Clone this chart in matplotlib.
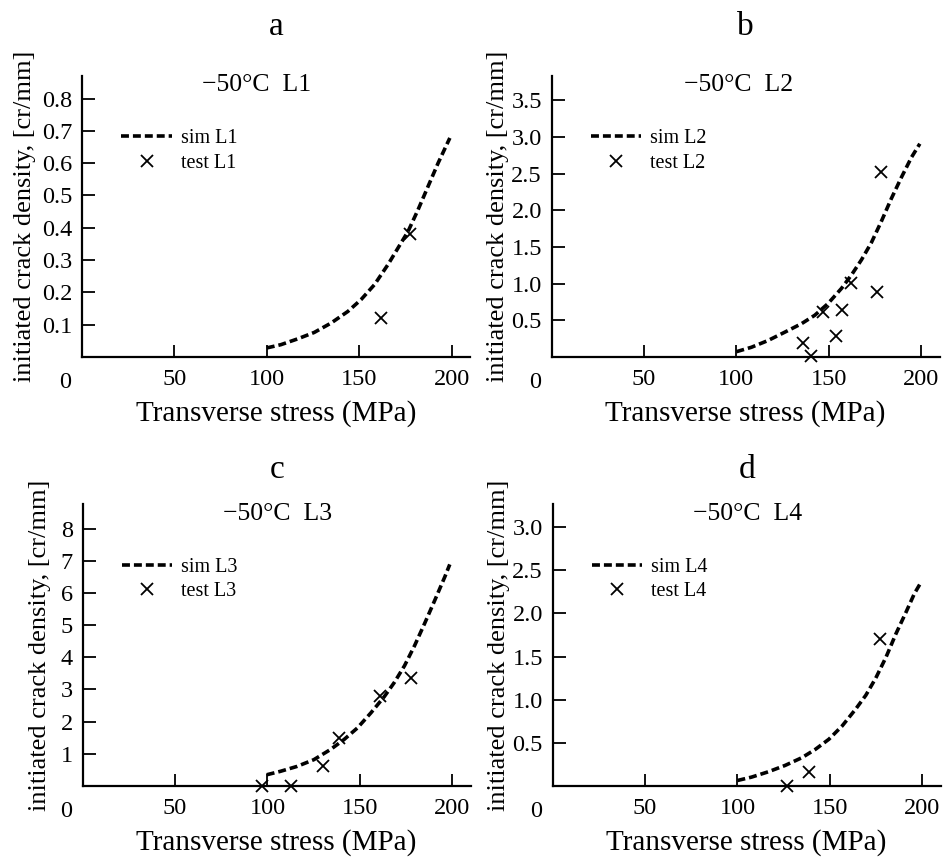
import matplotlib
matplotlib.use("Agg")
import matplotlib.pyplot as plt

plt.rcParams['font.family'] = ['Liberation Serif', 'DejaVu Serif']

# panel letters / layups
panels = ['a', 'b', 'c', 'd']
layups = ['L1', 'L2', 'L3', 'L4']

# simulated curves
sim_x = [
    [100, 107.6, 116.7, 125.7, 134.8, 143.9, 151.1, 158.3, 165.6, 171.0, 176.5,
     181.9, 187.3, 192.8, 199.1],
    [100, 108.1, 117.1, 126.2, 135.2, 142.4, 149.6, 156.9, 162.3, 167.7, 173.1,
     178.5, 183.9, 189.3, 194.8, 199.3],
    [99.6, 106.9, 116, 125.1, 134.2, 141.5, 148.7, 156, 163.3, 168.7, 174.2,
     179.6, 185.1, 190.5, 196, 198.7],
    [100, 107.6, 116.7, 125.8, 134.9, 142.2, 149.5, 156.7, 164, 169.5, 174.9,
     180.4, 185.8, 191.3, 195.8, 199.5],
]
sim_y = [
    [0.028, 0.038, 0.056, 0.076, 0.105, 0.141, 0.178, 0.224, 0.286, 0.337, 0.389,
     0.456, 0.528, 0.601, 0.678],
    [0.072, 0.132, 0.224, 0.338, 0.453, 0.568, 0.728, 0.935, 1.118, 1.324, 1.560,
     1.850, 2.160, 2.447, 2.722, 2.906],
    [0.34, 0.445, 0.60, 0.81, 1.13, 1.44, 1.80, 2.27, 2.78, 3.22, 3.74,
     4.36, 5.06, 5.77, 6.51, 6.90],
    [0.060, 0.099, 0.161, 0.235, 0.325, 0.422, 0.539, 0.694, 0.889, 1.050, 1.250,
     1.491, 1.764, 2.017, 2.231, 2.367],
]

# test points
test_x = [
    [162, 177.7],
    [178.2, 162.3, 176.2, 146.9, 157.4, 153.8, 136.1, 140.6],
    [96.9, 112.9, 130, 138.7, 161.1, 177.8],
    [126.7, 138.5, 177.3],
]
test_y = [
    [0.121, 0.382],
    [2.516, 1.003, 0.889, 0.613, 0.645, 0.283, 0.187, 0.008],
    [0.0, 0.0, 0.60, 1.49, 2.80, 3.37],
    [0.0, 0.16, 1.70],
]

# y ticks and limits
y_ticks = [
    [0.1, 0.2, 0.3, 0.4, 0.5, 0.6, 0.7, 0.8],
    [0.5, 1.0, 1.5, 2.0, 2.5, 3.0, 3.5],
    [1, 2, 3, 4, 5, 6, 7, 8],
    [0.5, 1.0, 1.5, 2.0, 2.5, 3.0],
]
y_fmt = ['{:.1f}', '{:.1f}', '{:d}', '{:.1f}']
y_top = [0.87, 3.83, 8.78, 3.27]
x_ticks = [50, 100, 150, 200]

fig = plt.figure(figsize=(9.43, 8.61), dpi=100)

# axes boxes in figure fractions
boxes = [
    [0.0870, 0.5854, 0.4114, 0.3264],
    [0.5850, 0.5854, 0.4114, 0.3264],
    [0.0877, 0.0875, 0.4114, 0.3270],
    [0.5861, 0.0875, 0.4114, 0.3270],
]
title_pad = [29.5, 29.5, 18.5, 18.5]
sub_x = [0.45, 0.483, 0.502, 0.502]
ylab_x = [-0.118, -0.110, -0.081, -0.110]

for i in range(4):
    ax = fig.add_axes(boxes[i])
    ax.plot(sim_x[i], sim_y[i], color='black', lw=2.6, ls=(0, (2.2, 1.1)),
            label='sim ' + layups[i])
    ax.plot(test_x[i], test_y[i], ls='none', marker='x', color='black',
            ms=9, mew=1.3, clip_on=False, label='test ' + layups[i])

    ax.set_xlim(0, 210)
    ax.set_ylim(0, y_top[i])
    ax.set_xticks(x_ticks)
    ax.set_yticks(y_ticks[i])
    ax.set_yticklabels([y_fmt[i].format(v) for v in y_ticks[i]])

    for s in ['top', 'right']:
        ax.spines[s].set_visible(False)
    for s in ['left', 'bottom']:
        ax.spines[s].set_linewidth(1.6)
    ax.tick_params(direction='in', length=9, width=1.3, labelsize=17.5)
    ax.tick_params(axis='y', pad=7)
    ax.tick_params(axis='x', pad=9)

    ax.annotate('0', xy=(0, 0), xycoords='axes fraction', xytext=(-17, -15),
                textcoords='offset pixels', ha='center', va='top', fontsize=17.5)

    ax.set_xlabel('Transverse stress (MPa)', fontsize=21)
    ax.xaxis.set_label_coords(0.5, -0.155)
    ax.set_ylabel('initiated crack density, [cr/mm]', fontsize=19)
    ax.yaxis.set_label_coords(ylab_x[i], 0.5)

    ax.set_title(panels[i], fontsize=24, pad=title_pad[i])
    ax.text(sub_x[i], 0.945, '\u221250\u00b0C  ' + layups[i], transform=ax.transAxes,
            ha='center', va='baseline', fontsize=18.5)

    ax.legend(loc='upper left', bbox_to_anchor=(0.065, 0.86), frameon=False,
              fontsize=14.5, handlelength=2.5, handletextpad=0.45,
              labelspacing=0.25, borderpad=0.2)

fig.savefig('out.png', dpi=100)
